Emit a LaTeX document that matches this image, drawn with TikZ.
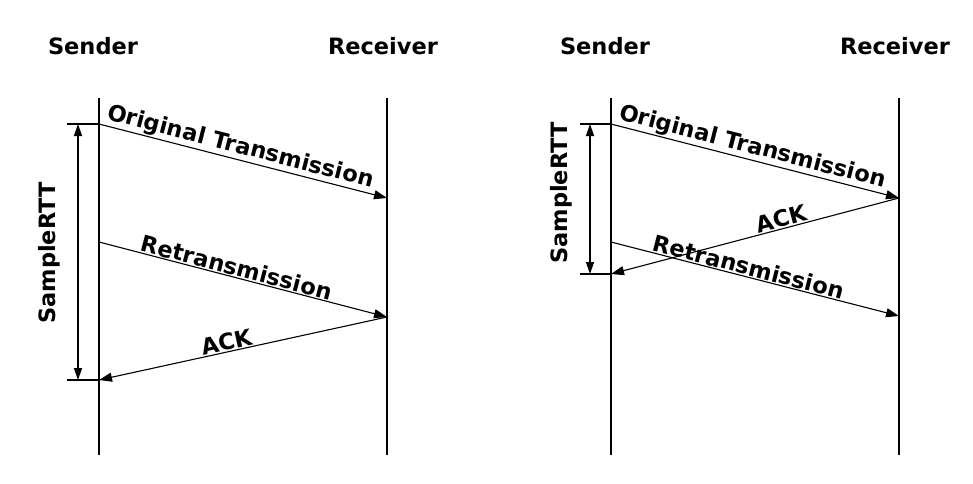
\documentclass[tikz,border=0pt]{standalone}
\usepackage{fontspec}
\setmainfont{DejaVu Sans}
\usetikzlibrary{arrows.meta}
\begin{document}
\begin{tikzpicture}[x=1pt,y=-1pt,
  lbl/.style={font=\bfseries\fontsize{22.5}{24}\selectfont, inner sep=1pt},
  life/.style={line width=1.2pt},
  msg/.style={line width=1.1pt, -{Triangle[length=13pt,width=9pt]}},
  tick/.style={line width=1.1pt},
  rtt/.style={line width=1.3pt, {Triangle[length=12pt,width=8pt]}-{Triangle[length=12pt,width=8pt]}}]
\useasboundingbox (0,0) rectangle (973,483);
% ---------- left diagram ----------
\node[lbl] (snd1) at (93,46) {Sender};
\node[lbl] (rcv1) at (383,46) {Receiver};
\coordinate (s1t) at (99,98);  \coordinate (s1b) at (99,455);
\coordinate (r1t) at (387,98); \coordinate (r1b) at (387,455);
\draw[life] (s1t) -- (s1b);
\draw[life] (r1t) -- (r1b);
\coordinate (a1) at (99,124);  \coordinate (b1) at (387,198);
\coordinate (c1) at (99,242);  \coordinate (d1) at (387,317);
\coordinate (e1) at (99,380);
\coordinate (t1a) at (67,124); \coordinate (t1b) at (67,380);
\coordinate (v1a) at (78,124); \coordinate (v1b) at (78,380);
\draw[msg] (a1) -- node[lbl, above, sloped, pos=0.48] (ot1) {Original Transmission} (b1);
\draw[msg] (c1) -- node[lbl, above, sloped, pos=0.47] (rt1) {Retransmission} (d1);
\draw[msg] (d1) -- node[lbl, above, sloped, pos=0.55] (ack1) {ACK} (e1);
\draw[tick] (t1a) -- (a1);
\draw[tick] (t1b) -- (e1);
\draw[rtt] (v1a) -- (v1b);
\node[lbl, rotate=90] (srtt1) at (49,253) {SampleRTT};
% ---------- right diagram ----------
\node[lbl] (snd2) at (605,46) {Sender};
\node[lbl] (rcv2) at (895,46) {Receiver};
\coordinate (s2t) at (611,98);  \coordinate (s2b) at (611,455);
\coordinate (r2t) at (899,98);  \coordinate (r2b) at (899,455);
\draw[life] (s2t) -- (s2b);
\draw[life] (r2t) -- (r2b);
\coordinate (a2) at (611,124); \coordinate (b2) at (899,198);
\coordinate (e2) at (611,274);
\coordinate (c2) at (611,242); \coordinate (d2) at (899,316);
\coordinate (t2a) at (580,124); \coordinate (t2b) at (580,274);
\coordinate (v2a) at (590,124); \coordinate (v2b) at (590,274);
\draw[msg] (a2) -- node[lbl, above, sloped, pos=0.48] (ot2) {Original Transmission} (b2);
\draw[msg] (b2) -- node[lbl, above, sloped, pos=0.40] (ack2) {ACK} (e2);
\draw[msg] (c2) -- node[lbl, above, sloped, pos=0.47] (rt2) {Retransmission} (d2);
\draw[tick] (t2a) -- (a2);
\draw[tick] (t2b) -- (e2);
\draw[rtt] (v2a) -- (v2b);
\node[lbl, rotate=90] (srtt2) at (561,193) {SampleRTT};
\end{tikzpicture}
\end{document}
